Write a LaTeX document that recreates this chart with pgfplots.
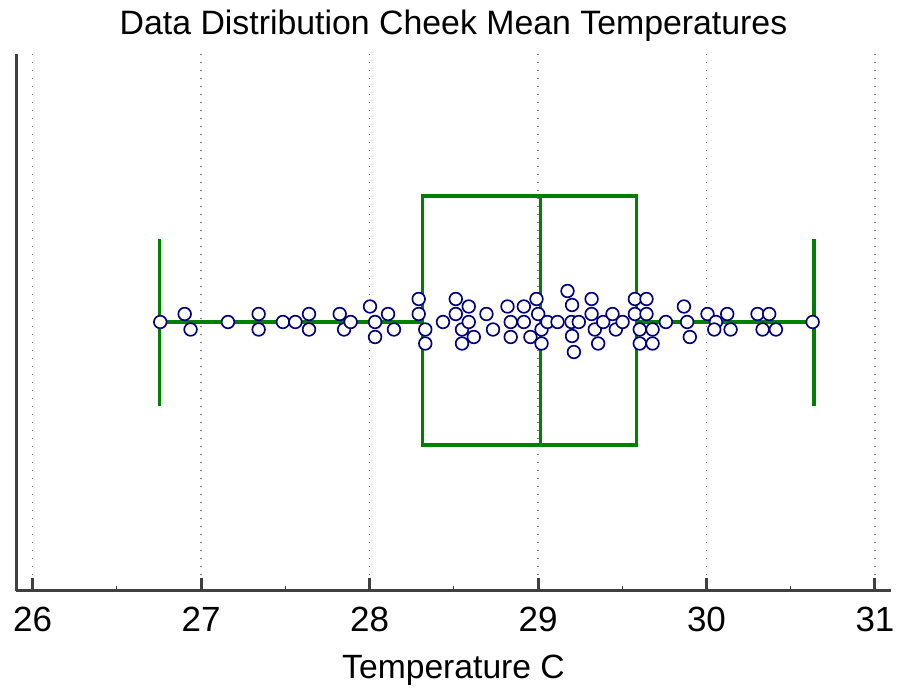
\documentclass[border=0pt]{standalone}
\usepackage{pgfplots}
\pgfplotsset{compat=1.18}
\usepackage{pgfplotstable}
\usepackage{fontspec}
\setmainfont{Liberation Sans}
\definecolor{boxgreen}{RGB}{0,128,0}
\definecolor{ptnavy}{RGB}{0,0,128}
\definecolor{axgray}{RGB}{64,64,64}

% x = temperature, y = vertical jitter offset (px units, centre line = 0)
\pgfplotstableread{
x y
26.758 0
26.903 8
26.938 -7.5
27.160 0
27.342 8
27.342 -7.5
27.486 0
27.560 0
27.641 8
27.641 -7.5
27.823 8
27.849 -7.5
27.888 0
28.003 15.5
28.033 0
28.033 -15
28.110 8
28.145 -7.5
28.292 23
28.292 8
28.331 -7.5
28.331 -21.5
28.436 0
28.512 23
28.512 8
28.549 -7.5
28.549 -21.5
28.589 15.5
28.589 0
28.619 -15
28.694 8
28.733 -7.5
28.819 15.5
28.838 0
28.838 -15
28.916 15.5
28.916 0
28.955 -15
28.991 23
29.001 8
29.021 -7.5
29.021 -21.5
29.056 0
29.116 0
29.175 31
29.202 17
29.199 0
29.242 0
29.202 -14
29.213 -30
29.318 23
29.318 8
29.337 -7.5
29.357 -21.5
29.387 0
29.442 8
29.462 -7.5
29.502 0
29.575 23
29.644 23
29.575 8
29.644 8
29.604 -7.5
29.680 -7.5
29.604 -21.5
29.680 -21.5
29.759 0
29.866 15.5
29.885 0
29.901 -15
30.006 8
30.056 0
30.046 -7.5
30.123 8
30.143 -7.5
30.303 8
30.372 8
30.333 -7.5
30.412 -7.5
30.630 0
}\points

\begin{document}
\begin{tikzpicture}
\begin{axis}[
    scale only axis, width=262.5pt, height=161.1pt,
    xmin=25.902, xmax=31.095, ymin=-269, ymax=268,
    axis x line=bottom, axis y line=left,
    axis line style={-, color=axgray, line width=0.9pt},
    xtick={26,27,28,29,30,31}, minor x tick num=1, ytick=\empty,
    tick align=inside,
    major tick length=3.9pt, minor tick length=1.5pt,
    major tick style={color=axgray, line width=0.9pt},
    minor tick style={color=axgray, line width=0.3pt},
    xmajorgrids, major grid style={gray, dotted, line width=0.4pt},
    /pgf/number format/assume math mode=true,
    xticklabel style={font=\fontsize{10.5}{12}\selectfont, anchor=base, inner sep=0pt, yshift=-12.3pt},
    title={Data Distribution Cheek Mean Temperatures},
    every axis title shift=0pt,
    title style={font=\fontsize{10.15}{12}\selectfont, at={(axis description cs:0.5,1.0354)}, anchor=base, inner sep=0pt},
    xlabel={Temperature C},
    xlabel style={font=\fontsize{10.1}{12}\selectfont, at={(axis description cs:0.5,-0.1639)}, anchor=base, inner sep=0pt},
    clip=false,
]
\path (rel axis cs:-0.01829,-0.1844) rectangle (rel axis cs:1.008,1.1006);
% whiskers
\addplot[boxgreen, line width=0.95pt] coordinates {(26.754,0) (28.316,0)};
\addplot[boxgreen, line width=0.95pt] coordinates {(29.587,0) (30.638,0)};
\addplot[boxgreen, line width=0.95pt] coordinates {(26.754,-84) (26.754,83)};
\addplot[boxgreen, line width=0.95pt] coordinates {(30.638,-84) (30.638,83)};
% box and median
\addplot[boxgreen, line width=0.95pt] coordinates {(28.316,-123) (29.587,-123) (29.587,126) (28.316,126) (28.316,-123)} -- cycle;
\addplot[boxgreen, line width=0.95pt] coordinates {(29.017,-123) (29.017,126)};
% data points
\addplot[only marks, mark=*, mark size=1.9pt, mark options={draw=ptnavy, fill=white, line width=0.5pt}] table[x=x, y=y] {\points};
\end{axis}
\end{tikzpicture}
\end{document}
